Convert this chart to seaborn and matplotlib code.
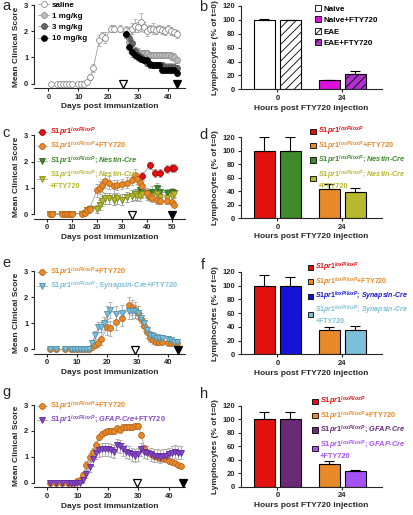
import numpy as np
import pandas as pd
import seaborn as sns
import matplotlib.pyplot as plt
from matplotlib.lines import Line2D
from matplotlib.patches import Patch

sns.set_style("ticks")
plt.rcParams["font.family"] = ["Liberation Sans", "DejaVu Sans"]
plt.rcParams["font.weight"] = "bold"
plt.rcParams["axes.labelweight"] = "bold"
plt.rcParams["mathtext.fontset"] = "custom"
plt.rcParams["mathtext.it"] = "Liberation Sans:italic:bold"
plt.rcParams["mathtext.rm"] = "Liberation Sans:bold"
plt.rcParams["mathtext.bf"] = "Liberation Sans:bold"
plt.rcParams["hatch.linewidth"] = 0.6

# ---------------- data ----------------
# panel a
a_sal_days = [1, 3, 4, 5, 6, 7, 8, 10, 11, 12, 13, 14, 15, 17, 18, 19, 21, 22, 24,
              26, 27, 28, 29, 30, 31, 32, 33, 34, 35, 36, 37, 38, 39, 40, 41, 42, 43]
a_sal = [0, 0, 0, 0, 0, 0, 0, 0, 0, 0, 0.05, 0.25, 0.6, 1.65, 1.8, 1.75, 2.1, 2.1, 2.1,
         2.05, 2.0, 2.1, 2.2, 2.15, 2.35, 2.15, 2.0, 2.1, 2.1, 2.05, 2.1, 2.05, 2.0, 2.1, 2.0, 1.95, 1.9]
a_sal_err = [0, 0, 0, 0, 0, 0, 0, 0, 0, 0, 0.05, 0.1, 0.15, 0.2, 0.15, 0.2, 0.15, 0.15, 0.15,
             0.15, 0.15, 0.2, 0.25, 0.2, 0.35, 0.2, 0.2, 0.15, 0.2, 0.15, 0.15, 0.15, 0.15, 0.15, 0.15, 0.15, 0.15]
a_trt_days = [26, 27, 28, 29, 30, 31, 32, 33, 34, 35, 36, 37, 38, 39, 40, 41, 42, 43]
a_1mg = [1.9, 1.6, 1.35, 1.25, 1.2, 1.15, 1.15, 1.15, 1.1, 1.1, 1.1, 1.1, 1.1, 1.1, 1.1, 1.05, 1.0, 0.9]
a_1mg_err = [0.15, 0.15, 0.15, 0.15, 0.15, 0.12, 0.12, 0.12, 0.12, 0.12, 0.12, 0.12, 0.12, 0.12, 0.12, 0.15, 0.15, 0.12]
a_3mg = [1.9, 1.75, 1.55, 1.25, 1.1, 1.0, 0.9, 0.8, 0.7, 0.7, 0.7, 0.7, 0.7, 0.65, 0.65, 0.65, 0.65, 0.6]
a_3mg_err = [0.15, 0.15, 0.15, 0.15, 0.15, 0.15, 0.12, 0.12, 0.12, 0.12, 0.12, 0.12, 0.12, 0.12, 0.12, 0.12, 0.12, 0.1]
a_10mg = [1.9, 1.4, 1.2, 1.1, 1.0, 0.95, 0.9, 0.9, 0.75, 0.7, 0.7, 0.7, 0.5, 0.5, 0.5, 0.5, 0.5, 0.4]
a_10mg_err = [0.15, 0.2, 0.2, 0.15, 0.12, 0.12, 0.1, 0.1, 0.1, 0.1, 0.1, 0.1, 0.1, 0.1, 0.1, 0.1, 0.1, 0.1]
a_tri = [25, 43]

# panel b
b_hours = ["0", "0", "24", "24"]
b_labels = ["Naive", "EAE", "Naive+FTY720", "EAE+FTY720"]
b_vals = [100, 100, 13, 22]
b_err = [1, 0, 1, 5]

# panel c
c_org_days = [1, 2, 6, 7, 8, 9, 10, 14, 15, 16, 17, 20, 21, 22, 23, 25, 27, 28, 30, 32, 34,
              35, 36, 37, 38, 40, 41, 42, 44, 45, 48, 50, 51]
c_org = [0, 0, 0, 0, 0, 0, 0, 0.02, 0.05, 0.15, 0.2, 0.9, 1.0, 1.1, 1.25, 1.2, 1.05, 1.1, 1.15, 1.2, 1.3,
         1.5, 1.35, 1.2, 1.05, 0.8, 0.65, 0.6, 0.55, 0.5, 0.5, 0.45, 0.35]
c_org_err = [0, 0, 0, 0, 0, 0, 0, 0.02, 0.05, 0.1, 0.15, 0.25, 0.25, 0.25, 0.25, 0.25, 0.25, 0.2, 0.2, 0.2, 0.2,
             0.2, 0.2, 0.2, 0.2, 0.15, 0.15, 0.15, 0.15, 0.1, 0.1, 0.1, 0.1]
c_red_days = [35, 38, 41, 43, 45, 48, 50, 51]
c_red = [1.4, 1.45, 1.85, 1.55, 1.55, 1.7, 1.75, 1.75]
c_red_err = [0.15, 0.15, 0.15, 0.15, 0.15, 0.15, 0.15, 0.15]
c_grn_days = [1, 2, 6, 7, 8, 9, 10, 14, 15, 16, 17, 20, 21, 22, 23, 25, 27, 28, 30, 32, 34,
              35, 36, 37, 38, 40, 42, 44, 45, 48, 50, 51]
c_grn = [0, 0, 0, 0, 0, 0, 0, 0.02, 0.05, 0.15, 0.2, 0.2, 0.35, 0.5, 0.6, 0.6, 0.55, 0.6, 0.55, 0.65, 0.7,
         0.75, 0.75, 0.9, 0.85, 0.8, 0.85, 1.0, 0.85, 0.8, 0.85, 0.8]
c_grn_err = [0, 0, 0, 0, 0, 0, 0, 0.02, 0.05, 0.1, 0.1, 0.15, 0.2, 0.2, 0.2, 0.2, 0.2, 0.2, 0.2, 0.2, 0.2,
             0.2, 0.2, 0.2, 0.2, 0.2, 0.2, 0.2, 0.2, 0.15, 0.15, 0.15]
c_olv = [0, 0, 0, 0, 0, 0, 0, 0.02, 0.05, 0.15, 0.2, 0.2, 0.35, 0.5, 0.6, 0.6, 0.55, 0.6, 0.55, 0.65, 0.7,
         0.75, 0.7, 0.7, 0.75, 0.7, 0.7, 0.75, 0.65, 0.6, 0.7, 0.75]
c_olv_err = [0, 0, 0, 0, 0, 0, 0, 0.02, 0.05, 0.1, 0.1, 0.15, 0.2, 0.2, 0.2, 0.2, 0.2, 0.2, 0.2, 0.2, 0.2,
             0.2, 0.2, 0.2, 0.15, 0.15, 0.15, 0.15, 0.15, 0.15, 0.15, 0.15]
c_tri = [34, 50]

# panel d
d_hours = ["0", "0", "24", "24"]
d_vals = [100, 100, 43, 38]
d_err = [20, 20, 7, 7]

# panel e
e_org_days = [1, 3, 6, 8, 9, 10, 11, 12, 13, 14, 15, 16, 17, 18, 20, 21, 23, 25, 27, 28, 29,
              30, 31, 32, 33, 34, 35, 36, 37, 38, 40, 41, 42, 43]
e_org = [0, 0, 0, 0, 0, 0, 0, 0, 0, 0, 0.1, 0.15, 0.25, 0.4, 0.85, 0.8, 1.05, 1.2, 1.7, 1.6, 1.5,
         1.4, 1.15, 0.9, 0.65, 0.45, 0.35, 0.3, 0.3, 0.3, 0.25, 0.25, 0.25, 0.25]
e_org_err = [0, 0, 0, 0, 0, 0, 0, 0, 0, 0, 0.1, 0.1, 0.15, 0.25, 0.3, 0.3, 0.3, 0.3, 0.3, 0.3, 0.3,
             0.25, 0.25, 0.2, 0.2, 0.15, 0.15, 0.15, 0.1, 0.1, 0.1, 0.1, 0.1, 0.1]
e_blu_days = [1, 3, 6, 8, 9, 10, 11, 12, 13, 14, 15, 16, 17, 18, 19, 20, 21, 23, 25, 27, 28, 29,
              30, 31, 32, 33, 34, 35, 36, 37, 38, 40, 41, 42, 43]
e_blu = [0, 0, 0, 0, 0, 0, 0, 0, 0, 0, 0.25, 0.55, 0.85, 0.85, 1.0, 1.35, 1.5, 1.35, 1.4, 1.45, 1.45, 1.45,
         1.4, 1.2, 1.0, 0.75, 0.55, 0.5, 0.45, 0.45, 0.45, 0.4, 0.35, 0.3, 0.3]
e_blu_err = [0, 0, 0, 0, 0, 0, 0, 0, 0, 0, 0.1, 0.15, 0.2, 0.2, 0.25, 0.3, 0.3, 0.3, 0.3, 0.3, 0.3, 0.25,
             0.25, 0.2, 0.2, 0.15, 0.15, 0.15, 0.15, 0.15, 0.1, 0.1, 0.1, 0.1, 0.1]
e_tri = [29, 43.5]

# panel f
f_hours = ["0", "0", "24", "24"]
f_vals = [100, 100, 35, 36]
f_err = [15, 13, 5, 5]

# panel g
g_days = [1, 3, 5, 7, 8, 9, 10, 11, 12, 13, 14, 15, 16, 17, 18, 19, 20, 21, 22, 23, 24, 25, 26,
          27, 28, 29, 30, 31, 32, 33, 34, 35, 36, 37, 38, 39, 40, 41, 42, 43, 44]
g_org = [0, 0, 0, 0, 0, 0, 0.05, 0.1, 0.3, 0.7, 1.0, 1.2, 1.45, 1.75, 1.9, 1.95, 2.0, 2.0, 2.0, 2.1, 2.05,
         2.15, 2.15, 2.15, 2.15, 2.2, 2.2, 1.85, 1.35, 1.2, 1.1, 1.05, 1.0, 0.95, 0.95, 0.9, 0.85, 0.8,
         0.75, 0.7, 0.65]
g_org_err = [0, 0, 0, 0, 0, 0, 0.05, 0.05, 0.1, 0.15, 0.15, 0.15, 0.15, 0.1, 0.1, 0.1, 0.1, 0.1, 0.1, 0.1,
             0.1, 0.1, 0.1, 0.1, 0.1, 0.1, 0.1, 0.1, 0.1, 0.1, 0.1, 0.1, 0.1, 0.1, 0.1, 0.1, 0.1, 0.08,
             0.08, 0.08, 0.08]
g_pur = [0, 0, 0, 0, 0, 0, 0, 0, 0.1, 0.35, 0.6, 0.9, 1.15, 1.25, 1.3, 1.3, 1.3, 1.25, 1.2, 1.45, 1.4,
         1.3, 1.2, 1.15, 1.1, 1.05, 1.1, 1.3, 1.2, 1.15, 1.1, 1.05, 1.05, 1.0, 1.05, 1.05, 1.1, 1.15,
         1.2, 1.15, 1.15]
g_pur_err = [0, 0, 0, 0, 0, 0, 0, 0, 0.1, 0.15, 0.2, 0.25, 0.25, 0.25, 0.25, 0.25, 0.25, 0.25, 0.25, 0.25,
             0.25, 0.25, 0.25, 0.25, 0.25, 0.25, 0.25, 0.25, 0.25, 0.25, 0.25, 0.25, 0.25, 0.25, 0.25,
             0.25, 0.25, 0.25, 0.25, 0.25, 0.25]
g_tri = [29.5, 44.5]

# panel h
h_hours = ["0", "0", "24", "24"]
h_vals = [100, 100, 33, 23]
h_err = [10, 10, 5, 2]

FLOX = r"$\mathit{S1pr1}^{\mathit{loxP/loxP}}$"
lab_flox = FLOX
lab_fty = FLOX + "+FTY720"
lab_nes = FLOX + r"; $\mathit{Nestin}$-$\mathit{Cre}$"
lab_nes_fty = FLOX + r"; $\mathit{Nestin}$-$\mathit{Cre}$" + "\n+FTY720"
lab_syn = FLOX + r"; $\mathit{Synapsin}$-$\mathit{Cre}$"
lab_syn_fty = FLOX + r"; $\mathit{Synapsin}$-$\mathit{Cre}$" + "\n+FTY720"
lab_syn_fty1 = FLOX + r"; $\mathit{Synapsin}$-$\mathit{Cre}$" + "+FTY720"
lab_gfap = FLOX + r"; $\mathit{GFAP}$-$\mathit{Cre}$"
lab_gfap_fty = FLOX + r"; $\mathit{GFAP}$-$\mathit{Cre}$" + "\n+FTY720"
lab_gfap_fty1 = FLOX + r"; $\mathit{GFAP}$-$\mathit{Cre}$" + "+FTY720"

RED = "#e31010"
ORG = "#e8892a"
GRN = "#3f8a2a"
OLV = "#b8b82e"
BLU = "#1414d8"
LBL = "#7cbfd8"
DPU = "#6a2a78"
LPU = "#a552f5"
PUR = "#8548c8"
MAG = "#dd10dd"
MAG2 = "#b030d0"

# ---------------- layout ----------------
W, H = 413, 515
fig = plt.figure(figsize=(W / 100, H / 100), dpi=100)


def px_axes(left, top, right, bottom):
    return fig.add_axes([left / W, 1 - bottom / H, (right - left) / W, (bottom - top) / H])


def style(ax):
    sns.despine(ax=ax)
    for s in ["left", "bottom"]:
        ax.spines[s].set_linewidth(0.8)
    ax.tick_params(direction="out", length=2.5, width=0.8, labelsize=5.5, pad=1.5)


def line_panel(ax, series, xlim, tri, leg_xy, leg_order, fs=5.3, sp=0.12):
    handles = []
    labels = []
    colors = []
    for days, vals, err, face, edge, marker, lab, tcol in series:
        ax.errorbar(days, vals, yerr=err, fmt="none", ecolor="#9a9a9a", elinewidth=0.5,
                    capsize=1.3, capthick=0.5, zorder=2)
        sns.lineplot(x=days, y=vals, ax=ax, color="#a0a0a0", linewidth=0.6, marker=marker,
                     markersize=4.2, markerfacecolor=face, markeredgecolor=edge,
                     markeredgewidth=0.6, errorbar=None, zorder=3)
        handles.append(Line2D([0], [0], color="#a0a0a0", lw=0.6, marker=marker, markersize=4.2,
                              markerfacecolor=face, markeredgecolor=edge, markeredgewidth=0.6))
        labels.append(lab)
        colors.append(tcol)
    ax.plot([tri[0]], [-0.02], marker="v", ms=6, mfc="white", mec="black", mew=0.9,
            clip_on=False, zorder=5)
    ax.plot([tri[1]], [-0.02], marker="v", ms=6, mfc="black", mec="black", mew=0.9,
            clip_on=False, zorder=5)
    ax.set_xlim(xlim)
    ax.set_ylim(-0.17, 3)
    ax.set_yticks([0, 1, 2, 3])
    ax.set_xticks(list(range(0, int(xlim[1]) + 1, 10)))
    style(ax)
    ax.spines["left"].set_bounds(0, 3)
    ax.set_xlabel("Days post immunization", fontsize=6, labelpad=2)
    ax.set_ylabel("Mean Clinical Score", fontsize=6, labelpad=3)
    ax.legend([handles[i] for i in leg_order], [labels[i] for i in leg_order],
              loc="upper left", bbox_to_anchor=(leg_xy[0] / W, 1 - leg_xy[1] / H),
              bbox_transform=fig.transFigure, frameon=False, fontsize=fs, handlelength=1.4,
              handletextpad=0.3, labelspacing=sp, borderpad=0, borderaxespad=0,
              labelcolor=[colors[i] for i in leg_order])


def bar_panel(ax, hours, vals, errs, colors, hatches, leg_labels, leg_idx, leg_colors, leg_xy,
              fs=5.3, sp=0.15):
    df = pd.DataFrame({"hours": hours, "val": vals, "slot": ["L", "R", "L", "R"]})
    sns.barplot(data=df, x="hours", y="val", hue="slot", order=["0", "24"], hue_order=["L", "R"],
                dodge=True, gap=0.2, width=0.8, ax=ax, legend=False, edgecolor="black",
                linewidth=0.8, errorbar=None, palette=["white", "white"])
    bar_sets = list(ax.containers)
    for i, cont in enumerate(bar_sets):
        for j, bar in enumerate(cont):
            k = 2 * j + i
            bar.set_facecolor(colors[k])
            bar.set_hatch(hatches[k])
            cx = bar.get_x() + bar.get_width() / 2
            ax.errorbar([cx], [vals[k]], yerr=[[0], [errs[k]]], fmt="none", ecolor="black",
                        elinewidth=0.8, capsize=3.5, capthick=0.8, zorder=1)
    ax.set_xlim(-0.56, 1.61)
    ax.set_ylim(0, 120)
    ax.set_yticks([0, 20, 40, 60, 80, 100, 120])
    style(ax)
    ax.set_xlabel("Hours post FTY720 injection", fontsize=6, labelpad=2)
    ax.set_ylabel("Lymphocytes (% of t=0)", fontsize=6, labelpad=3)
    handles = [Patch(facecolor=colors[k], edgecolor="black", hatch=hatches[k], linewidth=0.6)
               for k in leg_idx]
    ax.legend(handles, leg_labels, loc="upper left", bbox_to_anchor=(leg_xy[0] / W, 1 - leg_xy[1] / H),
              bbox_transform=fig.transFigure, frameon=False, fontsize=fs, handlelength=0.75,
              handleheight=0.75, handletextpad=0.3, labelspacing=sp, borderpad=0,
              borderaxespad=0, labelcolor=leg_colors)


# ---------------- row 1 ----------------
ax = px_axes(34, 5, 185, 88)
line_panel(ax, [
    (a_sal_days, a_sal, a_sal_err, "white", "#888888", "o", "saline", "black"),
    (a_trt_days, a_1mg, a_1mg_err, "#bdbdbd", "#8a8a8a", "o", "1 mg/kg", "black"),
    (a_trt_days, a_3mg, a_3mg_err, "#666666", "#4a4a4a", "o", "3 mg/kg", "black"),
    (a_trt_days, a_10mg, a_10mg_err, "black", "black", "o", "10 mg/kg", "black"),
], (-4.8, 45.6), a_tri, (38, 1), [0, 1, 2, 3], fs=5.8, sp=0.45)

ax = px_axes(241, 6, 382, 89.3)
bar_panel(ax, b_hours, b_vals, b_err, ["white", "white", MAG, MAG2], ["", "////", "", "////"],
          [b_labels[0], b_labels[2], b_labels[1], b_labels[3]], [0, 2, 1, 3],
          ["black"] * 4, (315, 5), fs=5.8, sp=0.45)

# ---------------- row 2 ----------------
ax = px_axes(34, 135.3, 185, 218.5)
line_panel(ax, [
    (c_red_days, c_red, c_red_err, RED, "#a00000", "o", lab_flox, RED),
    (c_grn_days, c_grn, c_grn_err, GRN, "#2d6b1f", "v", lab_nes, GRN),
    (c_grn_days, c_olv, c_olv_err, OLV, "#8f8f1c", "v", lab_nes_fty, OLV),
    (c_org_days, c_org, c_org_err, ORG, "#b8651a", "o", lab_fty, ORG),
], (-5.2, 55.2), c_tri, (37, 126), [0, 3, 1, 2])

ax = px_axes(241, 137.3, 382, 218)
bar_panel(ax, d_hours, d_vals, d_err, [RED, GRN, ORG, OLV], ["", "", "", ""],
          [lab_flox, lab_fty, lab_nes, lab_nes_fty], [0, 2, 1, 3], [RED, ORG, GRN, OLV], (310, 125))

# ---------------- row 3 ----------------
ax = px_axes(34, 271, 185, 353.8)
line_panel(ax, [
    (e_org_days, e_org, e_org_err, ORG, "#b8651a", "o", lab_fty, ORG),
    (e_blu_days, e_blu, e_blu_err, LBL, "#4f8fae", "v", lab_syn_fty1, LBL),
], (-4.3, 45.7), e_tri, (37, 266), [0, 1])

ax = px_axes(241, 272, 382, 354.3)
bar_panel(ax, f_hours, f_vals, f_err, [RED, BLU, ORG, LBL], ["", "", "", ""],
          [lab_flox, lab_fty, lab_syn, lab_syn_fty], [0, 2, 1, 3], [RED, ORG, BLU, LBL], (308, 261),
          fs=5.0)

# ---------------- row 4 ----------------
ax = px_axes(34, 405, 185, 487.2)
line_panel(ax, [
    (g_days, g_org, g_org_err, ORG, "#b8651a", "o", lab_fty, ORG),
    (g_days, g_pur, g_pur_err, PUR, "#5e2a9a", "v", lab_gfap_fty1, PUR),
], (-4.2, 45.3), g_tri, (37, 400), [0, 1])

ax = px_axes(241, 405.5, 382, 486.7)
bar_panel(ax, h_hours, h_vals, h_err, [RED, DPU, ORG, LPU], ["", "", "", ""],
          [lab_flox, lab_fty, lab_gfap, lab_gfap_fty], [0, 2, 1, 3], [RED, ORG, DPU, LPU], (312, 395))

# panel letters
for letter, (x, y) in zip("abcdefgh", [(2, -1), (199, 0), (2, 126), (199, 128), (2, 256),
                                        (201, 258), (2, 385), (200, 387)]):
    fig.text(x / W, 1 - y / H, letter, fontsize=10.5, fontweight="normal", va="top", ha="left")

fig.savefig("out.png", dpi=100)
